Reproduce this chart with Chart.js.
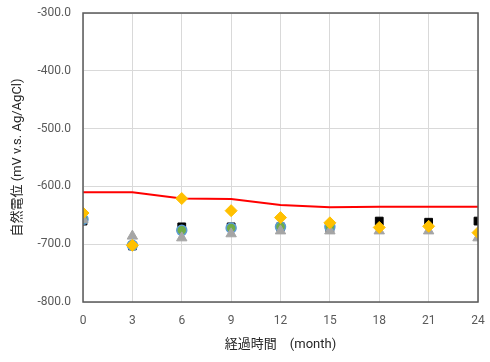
<!DOCTYPE html>
<html>
<head>
<meta charset="utf-8">
<script src="https://cdn.jsdelivr.net/npm/chart.js@4/dist/chart.umd.min.js"></script>
<style>
  html, body { margin: 0; padding: 0; background: #ffffff; }
  #wrap { width: 490px; height: 362px; }
</style>
</head>
<body>
<div id="wrap"><canvas id="c" width="490" height="362"></canvas></div>
<script>
// Elapsed months
const months = [0, 3, 6, 9, 12, 15, 18, 21, 24];

// Natural potential (mV vs Ag/AgCl) per specimen
const seriesLine    = [-610, -610, -621, -622, -632, -636, -635, -635, -635];
const seriesSquare  = [-660, -703, -670, -670, -670, -672, -660, -662, -660];
const seriesCircle  = [-657, -702, -676, -672, -670, -670, null, null, null];
const seriesTriangle= [-657, -686, -689, -682, -677, -677, -677, -677, -689];
const seriesDiamond = [-646, -702, -621, -642, -654, -663, -671, -669, -680];

// Axis ranges and tick labels
const yMin = -800, yMax = -300, yStep = 100;
const xMin = 0, xMax = 24, xStep = 3;

const pts = arr => months.map((m, i) => ({ x: m, y: arr[i] })).filter(p => p.y !== null);

const font = "Roboto, 'Noto Sans CJK JP', sans-serif";
const textColor = '#595959';

// Frame around the plotting area
const framePlugin = {
  id: 'frame',
  afterDatasetsDraw(chart) {
    const { ctx, chartArea: a } = chart;
    ctx.save();
    ctx.strokeStyle = '#595959';
    ctx.lineWidth = 1.5;
    ctx.strokeRect(a.left, a.top, a.right - a.left, a.bottom - a.top);
    ctx.restore();
  }
};

new Chart(document.getElementById('c'), {
  type: 'scatter',
  data: {
    datasets: [
      { label: 'diamond', data: pts(seriesDiamond), pointStyle: 'rectRot', radius: 6,
        backgroundColor: '#ffc000', borderColor: '#ffc000', borderWidth: 1 },
      { label: 'line', data: pts(seriesLine), showLine: true, pointRadius: 0,
        borderColor: '#ff0000', borderWidth: 2, tension: 0 },
      { label: 'triangle', data: pts(seriesTriangle), pointStyle: 'triangle', radius: 6,
        backgroundColor: '#a5a5a5', borderColor: '#a5a5a5', borderWidth: 1 },
      { label: 'circle', data: pts(seriesCircle), pointStyle: 'circle', radius: 5,
        backgroundColor: '#70ad47', borderColor: '#5b9bd5', borderWidth: 1.5 },
      { label: 'square', data: pts(seriesSquare), pointStyle: 'rect', radius: 5.5,
        backgroundColor: '#000000', borderColor: '#000000', borderWidth: 1 }
    ]
  },
  options: {
    responsive: false,
    animation: false,
    layout: { padding: { left: 10, top: 13, right: 12, bottom: 0 } },
    plugins: { legend: { display: false }, tooltip: { enabled: false } },
    scales: {
      x: {
        type: 'linear', min: xMin, max: xMax,
        ticks: { stepSize: xStep, color: textColor, font: { family: font, size: 12 }, padding: 12 },
        grid: { color: '#d9d9d9', drawTicks: false },
        border: { display: false },
        title: { display: true, text: '経過時間　(month)', color: '#262626',
                 font: { family: font, size: 13 }, padding: { top: 4, bottom: 9 } },
        afterFit(s) { s.height = 60; s.paddingLeft = 0; s.paddingRight = 0; }
      },
      y: {
        type: 'linear', min: yMin, max: yMax,
        ticks: { stepSize: yStep, color: textColor, font: { family: font, size: 12 }, padding: 12,
                 callback: v => Number(v).toFixed(1) },
        grid: { color: '#d9d9d9', drawTicks: false },
        border: { display: false },
        title: { display: true, text: '自然電位 (mV v.s. Ag/AgCl)', color: '#262626',
                 font: { family: font, size: 13 }, padding: { top: 0, bottom: 4 } },
        afterFit(s) { s.width = 73; s.paddingTop = 0; s.paddingBottom = 0; }
      }
    }
  },
  plugins: [framePlugin]
});
</script>
</body>
</html>
